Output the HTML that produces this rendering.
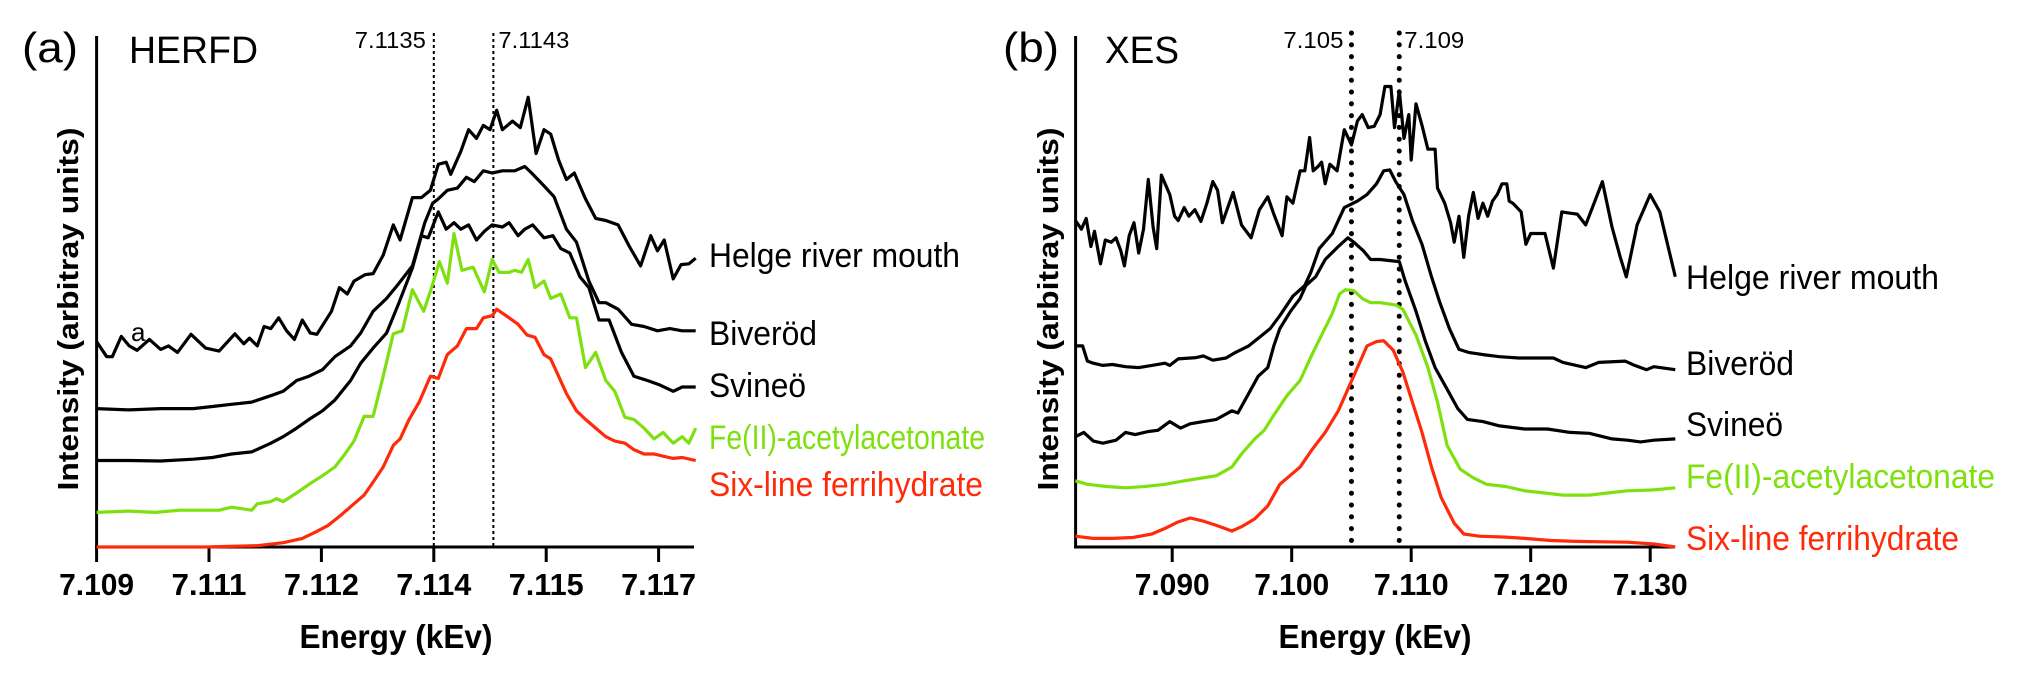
<!DOCTYPE html>
<html><head><meta charset="utf-8"><style>
html,body{margin:0;padding:0;background:#fff;}
svg{display:block;}
text{font-family:"Liberation Sans",sans-serif;}
</style></head><body>
<svg id="chart" width="2019" height="678" viewBox="0 0 2019 678" xmlns="http://www.w3.org/2000/svg">
<g id="pa"></g>
<g id="pb"></g>
</svg>
<script>
// ---------- Panel (a) HERFD data ----------
const aTickLabels = ["7.109","7.111","7.112","7.114","7.115","7.117"];
const aTickPos = [0,1,2,3,4,5];
const aMarkerPos = [3.0, 3.53];
const aMarkerLabels = ["7.1135","7.1143"];
const aHelgeX = [0,0.09,0.14,0.22,0.29,0.36,0.47,0.57,0.64,0.72,0.84,0.97,1.09,1.23,1.31,1.36,1.43,1.49,1.55,1.62,1.69,1.76,1.83,1.90,1.96,2.09,2.16,2.23,2.29,2.39,2.46,2.55,2.64,2.70,2.81,2.89,2.97,3.04,3.11,3.15,3.24,3.31,3.38,3.44,3.50,3.56,3.61,3.70,3.77,3.84,3.91,3.98,4.04,4.11,4.18,4.25,4.35,4.44,4.53,4.64,4.74,4.84,4.93,4.99,5.05,5.13,5.20,5.27,5.33];
const aHelgeY = [4.75,4.40,4.40,4.87,4.65,4.55,4.80,4.57,4.65,4.50,4.92,4.60,4.53,4.93,4.70,4.83,4.65,5.10,5.05,5.30,5.00,4.80,5.25,4.95,4.92,5.45,6.00,5.85,6.15,6.30,6.32,6.75,7.45,7.10,8.08,8.08,8.25,8.85,8.90,8.62,9.15,9.65,9.45,9.75,9.65,10.10,9.65,9.85,9.70,10.40,9.10,9.65,9.55,8.95,8.50,8.65,8.05,7.60,7.55,7.45,6.95,6.50,7.20,6.85,7.10,6.20,6.53,6.55,6.68];
const aBivX = [0,0.29,0.57,0.86,1.03,1.20,1.38,1.55,1.66,1.78,1.89,2.01,2.12,2.26,2.35,2.46,2.58,2.69,2.81,2.92,2.99,3.04,3.12,3.21,3.29,3.36,3.44,3.52,3.61,3.72,3.81,3.87,3.98,4.07,4.18,4.27,4.38,4.47,4.53,4.64,4.76,4.87,4.99,5.10,5.21,5.33];
const aBivY = [3.20,3.17,3.20,3.20,3.25,3.30,3.35,3.50,3.60,3.85,3.95,4.10,4.40,4.65,4.95,5.45,5.75,6.10,6.50,7.50,7.95,8.05,8.25,8.30,8.55,8.45,8.70,8.65,8.70,8.70,8.80,8.65,8.35,8.10,7.35,7.05,6.15,5.65,5.65,5.50,5.15,5.10,5.00,5.05,5.00,5.00];
const aSvX = [0,0.29,0.57,0.86,1.03,1.20,1.38,1.55,1.66,1.78,1.89,2.01,2.12,2.26,2.35,2.46,2.58,2.69,2.81,2.89,2.95,3.04,3.11,3.18,3.24,3.31,3.38,3.45,3.52,3.61,3.67,3.75,3.81,3.88,3.98,4.06,4.13,4.21,4.30,4.38,4.47,4.56,4.67,4.78,4.90,5.01,5.13,5.21,5.33];
const aSvY = [2.00,2.00,1.99,2.03,2.07,2.15,2.20,2.40,2.55,2.75,2.95,3.15,3.40,3.85,4.25,4.60,4.95,5.65,6.45,7.20,7.15,7.75,7.35,7.50,7.35,7.45,7.10,7.30,7.45,7.40,7.50,7.20,7.35,7.45,7.15,7.20,6.90,6.80,6.25,6.00,5.25,5.25,4.50,3.95,3.85,3.75,3.60,3.70,3.70];
const aFeX = [0,0.29,0.52,0.74,1.09,1.20,1.38,1.43,1.55,1.60,1.66,1.78,1.89,2.01,2.12,2.21,2.29,2.38,2.46,2.55,2.64,2.72,2.81,2.91,2.98,3.05,3.12,3.18,3.25,3.35,3.45,3.52,3.58,3.67,3.72,3.78,3.84,3.90,3.98,4.04,4.13,4.21,4.27,4.35,4.44,4.53,4.61,4.70,4.78,4.87,4.96,5.04,5.13,5.21,5.27,5.33];
const aFeY = [0.80,0.83,0.80,0.85,0.85,0.92,0.85,1.00,1.05,1.12,1.05,1.25,1.45,1.65,1.85,2.15,2.45,3.02,3.02,3.95,4.93,5.00,5.95,5.45,6.00,6.60,6.10,7.25,6.40,6.47,5.90,6.65,6.35,6.35,6.40,6.35,6.65,6.00,6.15,5.75,5.85,5.30,5.30,4.15,4.50,3.85,3.60,3.00,2.95,2.75,2.50,2.65,2.40,2.55,2.40,2.75];
const aFhX = [0,0.57,0.97,1.43,1.66,1.83,1.95,2.06,2.18,2.29,2.38,2.46,2.55,2.64,2.70,2.78,2.87,2.97,3.04,3.12,3.21,3.29,3.38,3.44,3.52,3.56,3.67,3.75,3.83,3.90,3.98,4.04,4.11,4.18,4.27,4.35,4.44,4.53,4.61,4.70,4.78,4.87,4.96,5.04,5.13,5.21,5.33];
const aFhY = [0,0,0,0.03,0.10,0.20,0.35,0.50,0.75,1.00,1.20,1.50,1.85,2.35,2.50,2.95,3.35,3.95,3.90,4.45,4.65,5.05,5.05,5.30,5.35,5.50,5.30,5.15,4.90,4.85,4.45,4.35,3.95,3.55,3.15,2.95,2.75,2.55,2.45,2.40,2.25,2.15,2.15,2.10,2.05,2.07,2.00];

// ---------- Panel (b) XES data ----------
const bTickVals = [7.090,7.100,7.110,7.120,7.130];
const bTickLabels = ["7.090","7.100","7.110","7.120","7.130"];
const bMarkerVals = [7.105,7.109];
const bMarkerLabels = ["7.105","7.109"];
const bHelgeX = [7.0819,7.0824,7.0828,7.0832,7.0835,7.0840,7.0844,7.0849,7.0853,7.0857,7.0860,7.0864,7.0868,7.0872,7.0876,7.0880,7.0884,7.0887,7.0891,7.0898,7.0902,7.0905,7.0910,7.0914,7.0919,7.0924,7.0929,7.0934,7.0938,7.0942,7.0951,7.0958,7.0966,7.0973,7.0980,7.0985,7.0992,7.0996,7.1001,7.1007,7.1011,7.1015,7.1018,7.1022,7.1025,7.1028,7.1032,7.1038,7.1044,7.1050,7.1055,7.1059,7.1064,7.1069,7.1074,7.1078,7.1083,7.1086,7.1090,7.1094,7.1098,7.1100,7.1104,7.1109,7.1114,7.1120,7.1122,7.1128,7.1133,7.1136,7.1140,7.1144,7.1148,7.1152,7.1156,7.1160,7.1164,7.1168,7.1172,7.1176,7.1180,7.1182,7.1185,7.1192,7.1196,7.1200,7.1209,7.1212,7.1219,7.1226,7.1233,7.1239,7.1246,7.1260,7.1268,7.1275,7.1280,7.1289,7.1300,7.1308,7.1321];
const bHelgeY = [7.55,7.35,7.60,6.95,7.30,6.55,7.10,7.05,7.15,6.85,6.50,7.20,7.50,6.80,7.35,8.50,7.40,6.90,8.60,8.15,7.65,7.55,7.85,7.65,7.80,7.53,7.95,8.45,8.25,7.50,8.20,7.45,7.15,7.80,8.10,7.70,7.20,8.10,7.95,8.70,8.70,9.47,8.70,8.80,8.90,8.40,8.85,8.70,9.65,9.30,9.85,10.0,9.70,9.73,10.0,10.65,10.65,9.70,10.55,9.45,10.0,8.95,10.25,9.75,9.20,9.20,8.30,7.95,7.50,7.05,7.65,6.70,7.65,8.20,7.60,7.95,7.65,8.00,8.15,8.40,8.40,8.00,7.95,7.75,7.00,7.25,7.25,7.25,6.45,7.75,7.72,7.70,7.45,8.45,7.40,6.70,6.25,7.45,8.15,7.75,6.25];
const bBivX = [7.0819,7.0825,7.0829,7.0834,7.0842,7.0850,7.0861,7.0872,7.0883,7.0894,7.0898,7.0905,7.0920,7.0926,7.0934,7.0945,7.0953,7.0964,7.0974,7.0982,7.0990,7.1001,7.1011,7.1016,7.1023,7.1034,7.1044,7.1055,7.1063,7.1071,7.1077,7.1082,7.1087,7.1094,7.1101,7.1109,7.1117,7.1124,7.1132,7.1140,7.1148,7.1160,7.1174,7.1190,7.1200,7.1219,7.1227,7.1246,7.1257,7.1279,7.1287,7.1297,7.1303,7.1321];
const bBivY = [4.65,4.65,4.30,4.25,4.20,4.22,4.17,4.15,4.20,4.25,4.20,4.35,4.38,4.42,4.32,4.37,4.50,4.65,4.87,5.05,5.35,5.80,6.05,6.35,6.90,7.25,7.85,8.00,8.15,8.40,8.70,8.72,8.45,8.15,7.55,7.00,6.25,5.65,5.05,4.57,4.50,4.45,4.40,4.37,4.37,4.37,4.27,4.15,4.27,4.30,4.20,4.10,4.17,4.10];
const bSvX = [7.0819,7.0826,7.0834,7.0842,7.0853,7.0861,7.0869,7.0880,7.0888,7.0898,7.0907,7.0915,7.0926,7.0937,7.0950,7.0955,7.0962,7.0972,7.0980,7.0985,7.0990,7.0999,7.1007,7.1012,7.1020,7.1028,7.1039,7.1047,7.1052,7.1060,7.1066,7.1074,7.1090,7.1095,7.1104,7.1112,7.1120,7.1130,7.1139,7.1147,7.1160,7.1174,7.1195,7.1214,7.1233,7.1249,7.1268,7.1281,7.1292,7.1303,7.1321];
const bSvY = [2.55,2.65,2.45,2.40,2.47,2.65,2.60,2.67,2.70,2.90,2.75,2.85,2.90,2.95,3.15,3.10,3.45,3.95,4.15,4.65,5.05,5.45,5.75,6.05,6.25,6.65,6.95,7.15,7.05,6.85,6.65,6.65,6.60,6.15,5.45,4.75,4.15,3.65,3.20,2.95,2.90,2.80,2.73,2.73,2.65,2.63,2.50,2.47,2.43,2.47,2.50];
const bFeX = [7.0819,7.0829,7.0845,7.0861,7.0877,7.0894,7.0910,7.0926,7.0937,7.0950,7.0958,7.0969,7.0977,7.0985,7.0996,7.1007,7.1017,7.1025,7.1034,7.1040,7.1045,7.1052,7.1059,7.1066,7.1074,7.1087,7.1093,7.1104,7.1114,7.1122,7.1130,7.1141,7.1152,7.1163,7.1179,7.1195,7.1211,7.1227,7.1249,7.1265,7.1281,7.1303,7.1321];
const bFeY = [1.53,1.45,1.40,1.37,1.40,1.45,1.53,1.60,1.65,1.85,2.15,2.50,2.70,3.05,3.50,3.85,4.45,4.90,5.40,5.85,5.95,5.93,5.75,5.65,5.65,5.60,5.50,4.90,4.15,3.35,2.35,1.80,1.60,1.45,1.40,1.30,1.25,1.20,1.20,1.25,1.30,1.32,1.37];
const bFhX = [7.0819,7.0834,7.0850,7.0867,7.0883,7.0894,7.0904,7.0915,7.0926,7.0937,7.0950,7.0958,7.0969,7.0980,7.0990,7.1007,7.1017,7.1028,7.1039,7.1047,7.1055,7.1063,7.1071,7.1077,7.1085,7.1093,7.1101,7.1109,7.1117,7.1125,7.1136,7.1144,7.1157,7.1179,7.1195,7.1217,7.1238,7.1260,7.1281,7.1303,7.1321];
const bFhY = [0.25,0.20,0.20,0.22,0.30,0.43,0.57,0.67,0.60,0.50,0.37,0.47,0.65,0.95,1.45,1.85,2.25,2.65,3.15,3.65,4.15,4.65,4.75,4.77,4.55,4.05,3.35,2.65,1.85,1.15,0.55,0.30,0.25,0.23,0.20,0.15,0.13,0.12,0.11,0.07,0];

const NS = "http://www.w3.org/2000/svg";
function mk(parent, tag, attrs, txt){
  const el = document.createElementNS(NS, tag);
  for (const k in attrs) el.setAttribute(k, attrs[k]);
  if (txt !== undefined) el.textContent = txt;
  parent.appendChild(el);
  return el;
}
// axis functions
const axA = { x: u => 96.6 + u*112.4, y: v => 547 - v*43.24 };
const axB = { x: e => 1172.2 + (e-7.090)*11950, y: v => 547 - v*43.24 };

function pathFrom(ax, xs, ys){
  return xs.map((x,i)=>(i?"L":"M")+ax.x(x).toFixed(1)+","+ax.y(ys[i]).toFixed(1)).join(" ");
}

function drawPanel(g, ax, cfg){
  let el;
  el = mk(g,"line",{x1:cfg.x0,y1:36,x2:cfg.x0,y2:548.5,stroke:"#000","stroke-width":3});
   
  el = mk(g,"line",{x1:cfg.x0-1.5,y1:547,x2:cfg.x1,y2:547,stroke:"#000","stroke-width":3});
   
  cfg.ticks.forEach((t,i)=>{
    const x = ax.x(t);
    const tk = mk(g,"line",{x1:x,y1:547,x2:x,y2:562,stroke:"#000","stroke-width":3});
    
    
    const lb = mk(g,"text",{x:x,y:595,"text-anchor":"middle","font-size":31,"font-weight":"bold",textLength:75,lengthAdjust:"spacingAndGlyphs"}, cfg.tickLabels[i]);
    
    
  });
  el = mk(g,"text",{x:cfg.xtitleX,y:648,"text-anchor":"middle","font-size":33,"font-weight":"bold",textLength:193,lengthAdjust:"spacingAndGlyphs"},"Energy (kEv)");
   
  el = mk(g,"text",{x:0,y:0,"text-anchor":"middle","font-size":29,"font-weight":"bold",textLength:363,lengthAdjust:"spacingAndGlyphs",transform:`translate(${cfg.ytitleX},309) rotate(-90)`},"Intensity (arbitray units)");
   
  el = mk(g,"text",{x:cfg.letterX,y:62,"font-size":42,textLength:56,lengthAdjust:"spacingAndGlyphs"},cfg.letter);
   
  el = mk(g,"text",{x:cfg.titleX,y:63,"font-size":38,textLength:cfg.titleW,lengthAdjust:"spacingAndGlyphs"},cfg.title);
   
  cfg.markers.forEach((m,i)=>{
    const x = ax.x(m);
    const ln = mk(g,"line",{x1:x,y1:33,x2:x,y2:cfg.markerBottom,stroke:"#000","stroke-width":cfg.dotW,"stroke-dasharray":cfg.dash,"stroke-linecap":cfg.cap});
    
    
    const lt = mk(g,"text",{x: i===0 ? x-8 : x+5, y:48,"text-anchor": i===0?"end":"start","font-size":23,textLength:cfg.mlW,lengthAdjust:"spacingAndGlyphs"},cfg.markerLabels[i]);
    
    
  });
  cfg.series.forEach(s=>{
    const p = mk(g,"path",{d:pathFrom(ax,s.x,s.y),fill:"none",stroke:s.color,"stroke-width":3.2,"stroke-linejoin":"round"});
    
    
    const t = mk(g,"text",{x:cfg.labelX,y:s.ly,"font-size":34,fill:s.color,textLength:s.lw,lengthAdjust:"spacingAndGlyphs"},s.name);
    
    
  });
}

drawPanel(document.getElementById('pa'), axA, {
  x0:96.6, x1:694, ticks:aTickPos, tickLabels:aTickLabels, xtitleX:396, ytitleX:78,
  letter:"(a)", letterX:22, title:"HERFD", titleX:129, titleW:129, mlW:71,
  markers:aMarkerPos, markerLabels:aMarkerLabels, markerBottom:547, dotW:2, dash:"3,3", cap:"butt",
  labelX:709,
  series:[
    {key:"helge-river-mouth",name:"Helge river mouth",x:aHelgeX,y:aHelgeY,color:"#000",ly:267,lw:251},
    {key:"biverod",name:"Biveröd",x:aBivX,y:aBivY,color:"#000",ly:345,lw:108},
    {key:"svineo",name:"Svineö",x:aSvX,y:aSvY,color:"#000",ly:397,lw:97},
    {key:"fe-acetylacetonate",name:"Fe(II)-acetylacetonate",x:aFeX,y:aFeY,color:"#7fe00f",ly:449,lw:276},
    {key:"six-line-ferrihydrate",name:"Six-line ferrihydrate",x:aFhX,y:aFhY,color:"#ff2a0a",ly:496,lw:274}
  ]
});
drawPanel(document.getElementById('pb'), axB, {
  x0:1075.6, x1:1675, ticks:bTickVals, tickLabels:bTickLabels, xtitleX:1375, ytitleX:1058,
  letter:"(b)", letterX:1003, title:"XES", titleX:1105, titleW:74, mlW:60,
  markers:bMarkerVals, markerLabels:bMarkerLabels, markerBottom:542, dotW:5, dash:"0.1,11.7", cap:"round",
  labelX:1686,
  series:[
    {key:"helge-river-mouth",name:"Helge river mouth",x:bHelgeX,y:bHelgeY,color:"#000",ly:289,lw:253},
    {key:"biverod",name:"Biveröd",x:bBivX,y:bBivY,color:"#000",ly:375,lw:108},
    {key:"svineo",name:"Svineö",x:bSvX,y:bSvY,color:"#000",ly:436,lw:97},
    {key:"fe-acetylacetonate",name:"Fe(II)-acetylacetonate",x:bFeX,y:bFeY,color:"#7fe00f",ly:488,lw:309},
    {key:"six-line-ferrihydrate",name:"Six-line ferrihydrate",x:bFhX,y:bFhY,color:"#ff2a0a",ly:550,lw:273}
  ]
});
const ann = mk(document.getElementById('pa'),"text",{x:131,y:341,"font-size":26},"a");


</script>
</body></html>
